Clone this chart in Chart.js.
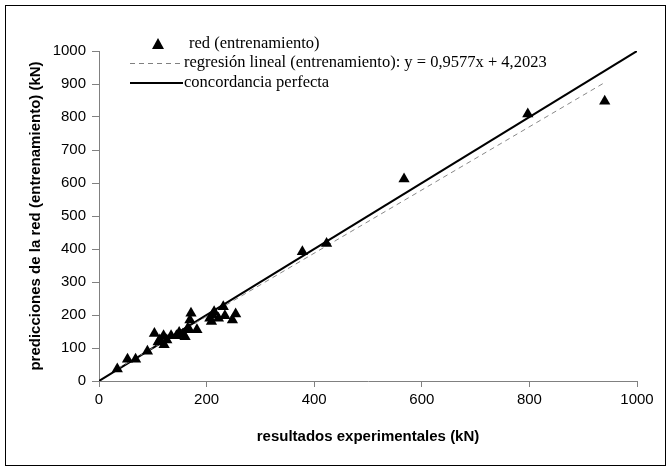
<!DOCTYPE html>
<html>
<head>
<meta charset="utf-8">
<script src="https://cdn.jsdelivr.net/npm/chart.js@4/dist/chart.umd.min.js"></script>
<style>
html,body{margin:0;padding:0;background:#fff;}
#wrap{width:671px;height:473px;position:relative;}
</style>
</head>
<body>
<div id="wrap"><canvas id="c" width="671" height="473"></canvas></div>
<script>
// Data
const experimental = [34,53,68,90,103,110,113,120,121,126,134,144,149,156,160,165,169,171,168,182,206,209,211,214,222,231,234,248,254,378,423,567,797,940];
const predicted    = [36,66,66,90,144,118,124,137,110,124,137,137,147,142,134,160,185,205,155,155,190,180,200,210,190,225,198,185,203,392,417,612,809,848];
const regSlope = 0.9577;
const regIntercept = 4.2023;
const regRange = [34, 940];
const perfectRange = [0, 1000];
const xTicks = [0,200,400,600,800,1000];
const yTicks = [0,100,200,300,400,500,600,700,800,900,1000];
const labels = ['red (entrenamiento)', 'regresión lineal (entrenamiento): y = 0,9577x + 4,2023', 'concordancia perfecta'];
const xTitle = 'resultados experimentales (kN)';
const yTitle = 'predicciones de la red (entrenamiento) (kN)';

const scatterPts = experimental.map((x,i)=>({x:x,y:predicted[i]}));
const regPts = regRange.map(x=>({x:x,y:regSlope*x+regIntercept}));
const perfPts = perfectRange.map(x=>({x:x,y:x}));

const frame = {
  id:'frame',
  afterDraw(chart){
    const ctx = chart.ctx;
    ctx.save();
    ctx.strokeStyle = '#000';
    ctx.lineWidth = 1;
    ctx.strokeRect(5.5,5.5,660,460);
    // legend
    ctx.font = '16.5px "Liberation Serif", "Times New Roman", serif';
    ctx.fillStyle = '#000';
    ctx.textBaseline = 'middle';
    ctx.textAlign = 'left';
    const rows = [44, 63, 83];
    // triangle
    ctx.beginPath();
    ctx.moveTo(158, rows[0]-6);
    ctx.lineTo(164, rows[0]+5);
    ctx.lineTo(152, rows[0]+5);
    ctx.closePath();
    ctx.fill();
    ctx.fillText(labels[0], 189, rows[0]);
    // dashed
    ctx.strokeStyle = '#808080';
    ctx.lineWidth = 1;
    ctx.setLineDash([5,4]);
    ctx.beginPath(); ctx.moveTo(130, rows[1]+0.5); ctx.lineTo(182, rows[1]+0.5); ctx.stroke();
    ctx.setLineDash([]);
    ctx.fillText(labels[1], 184, rows[1]);
    // solid
    ctx.strokeStyle = '#000';
    ctx.lineWidth = 2;
    ctx.beginPath(); ctx.moveTo(130, rows[2]); ctx.lineTo(183, rows[2]); ctx.stroke();
    ctx.fillText(labels[2], 184, rows[2]);
    ctx.restore();
  }
};

new Chart(document.getElementById('c'), {
  type:'scatter',
  data:{
    datasets:[
      {label:labels[2], data:perfPts, type:'line', showLine:true, borderColor:'#000', borderWidth:2, pointRadius:0, fill:false, order:3},
      {label:labels[1], data:regPts, type:'line', showLine:true, borderColor:'#888', borderWidth:1, borderDash:[5,4], pointRadius:0, fill:false, order:2},
      {label:labels[0], data:scatterPts, pointStyle:'triangle', pointRadius:6.5, backgroundColor:'#000', borderColor:'#000', borderWidth:0, order:1}
    ]
  },
  options:{
    responsive:false,
    animation:false,
    devicePixelRatio:1,
    layout:{padding:{left:0,top:51,right:34,bottom:0}},
    plugins:{legend:{display:false}, tooltip:{enabled:false}},
    scales:{
      x:{
        type:'linear', min:0, max:1000,
        afterBuildTicks(s){ s.ticks = xTicks.map(v=>({value:v})); },
        afterFit(s){ s.height = 92; },
        grid:{display:true, drawOnChartArea:false, drawTicks:true, tickLength:6, color:'#808080'},
        border:{display:true, color:'#808080', width:1},
        ticks:{color:'#000', font:{family:'"Liberation Sans", Arial, sans-serif', size:15}, padding:4, maxRotation:0, callback:(v)=>String(v)},
        title:{display:true, text:xTitle, color:'#000', font:{family:'"Liberation Sans", Arial, sans-serif', size:15, weight:'bold'}, padding:{top:0,bottom:27}}
      },
      y:{
        type:'linear', min:0, max:1000,
        afterBuildTicks(s){ s.ticks = yTicks.map(v=>({value:v})); },
        afterFit(s){ s.width = 99; },
        grid:{display:true, drawOnChartArea:false, drawTicks:true, tickLength:7, color:'#808080'},
        border:{display:true, color:'#808080', width:1},
        ticks:{color:'#000', font:{family:'"Liberation Sans", Arial, sans-serif', size:15}, padding:6, callback:(v)=>String(v)},
        title:{display:true, text:yTitle, color:'#000', font:{family:'"Liberation Sans", Arial, sans-serif', size:15, weight:'bold'}, padding:{top:27,bottom:0}}
      }
    }
  },
  plugins:[frame]
});
</script>
</body>
</html>
